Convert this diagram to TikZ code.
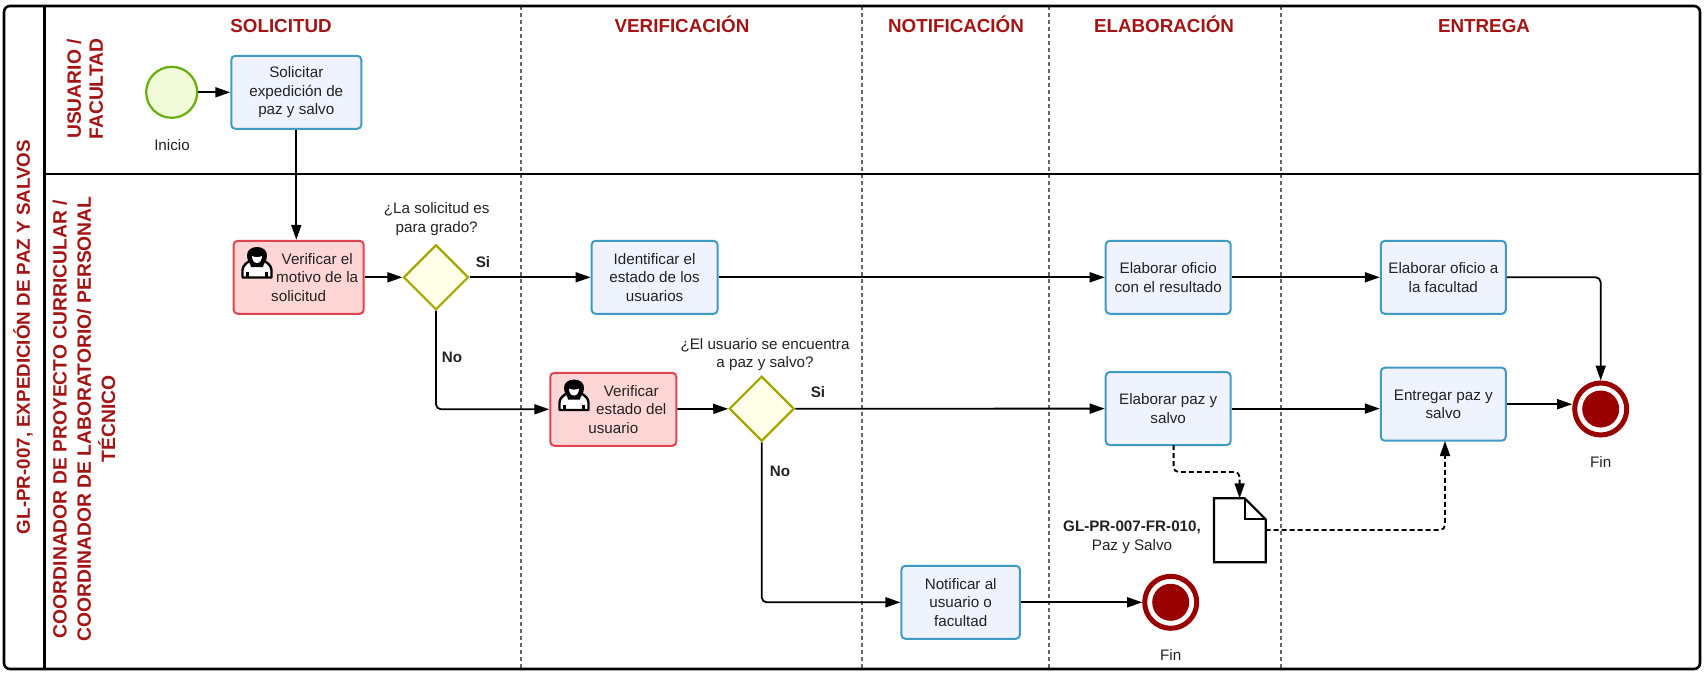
\documentclass[tikz,border=0pt]{standalone}
\usepackage{fontspec}
\setmainfont{Liberation Sans}
\usetikzlibrary{arrows.meta,shapes.geometric,calc}
\definecolor{hdr}{HTML}{A31515}
\definecolor{txt}{HTML}{222222}
\definecolor{tblue}{HTML}{EFF3FE}
\definecolor{sblue}{HTML}{3F9AC4}
\definecolor{tred}{HTML}{FFD6D6}
\definecolor{sred}{HTML}{E0444E}
\definecolor{tyel}{HTML}{FEFEE9}
\definecolor{syel}{HTML}{A6A600}
\definecolor{tgrn}{HTML}{F1FBD9}
\definecolor{sgrn}{HTML}{66AE0A}
\definecolor{endc}{HTML}{990000}
\tikzset{
 lbl/.style={font=\fontsize{15.2}{18.6}\selectfont,text=txt,align=center,inner sep=0pt},
 boldlbl/.style={lbl,font=\fontsize{15.2}{18.6}\selectfont\bfseries},
 hdrlbl/.style={font=\fontsize{18.8}{22}\selectfont\bfseries,text=hdr,inner sep=0pt,anchor=base},
 sidelbl/.style={font=\fontsize{19.3}{24.2}\selectfont\bfseries,text=hdr,align=center,inner sep=0pt,rotate=90},
 taskbase/.style={rectangle,rounded corners=4pt,line width=2pt,inner sep=0pt,align=center,text=txt,font=\fontsize{15.2}{18.6}\selectfont},
 task/.style={taskbase,draw=sblue,fill=tblue,minimum width=125pt,minimum height=73pt},
 utask/.style={taskbase,draw=sred,fill=tred,minimum width=128pt,minimum height=73pt},
 gate/.style={diamond,draw=syel,fill=tyel,line width=2.2pt,minimum width=65pt,minimum height=65pt,inner sep=0pt,aspect=1},
 startev/.style={circle,draw=sgrn,fill=tgrn,line width=2.2pt,minimum size=51pt,inner sep=0pt},
 endev/.style={circle,draw=endc,fill=white,line width=5pt,minimum size=52pt,inner sep=0pt},
 flow/.style={-{Triangle[length=15pt,width=10pt]},line width=1.8pt,black,rounded corners=5pt},
 assoc/.style={flow,dash pattern=on 5pt off 3pt},
 lane/.style={line width=1.1pt,draw=black!60,dash pattern=on 4pt off 3pt},
 person/.pic={
  \draw[black,fill=white,line width=2.4pt,line join=round]
   (-14.5,14.5) -- (-14.5,7) .. controls (-14.5,2) and (-9,-1) .. (-6,-3) -- (6,-3) .. controls (9,-1) and (14.5,2) .. (14.5,7) -- (14.5,14.5) -- cycle;
  \draw[black,line width=2.2pt] (-9.5,9) -- (-9.5,14.5) (9.5,9) -- (9.5,14.5);
  \fill[black] (-10,-7) .. controls (-11,-19) and (11,-19) .. (10,-7) .. controls (10,-2) and (6,1) .. (6,4) -- (-6,4) .. controls (-6,1) and (-10,-2) .. (-10,-7) -- cycle;
  \fill[white] (-5,-7) .. controls (-2,-5.5) and (2,-5.5) .. (5,-7) .. controls (5,-3) and (3,0) .. (0,0) .. controls (-3,0) and (-5,-3) .. (-5,-7) -- cycle;
 }
}
\begin{document}
\begin{tikzpicture}[x=1pt,y=-1pt]
\useasboundingbox (0,0) rectangle (1705,675);
% lanes
\coordinate (topa) at (521,6); \coordinate (bota) at (521,669);
\coordinate (topb) at (862,6); \coordinate (botb) at (862,669);
\coordinate (topc) at (1049,6); \coordinate (botc) at (1049,669);
\coordinate (topd) at (1281,6); \coordinate (botd) at (1281,669);
\draw[lane] (topa) -- (bota);
\draw[lane] (topb) -- (botb);
\draw[lane] (topc) -- (botc);
\draw[lane] (topd) -- (botd);
% frame
\coordinate (fa) at (4,6); \coordinate (fb) at (1700,669);
\draw[line width=2.6pt,rounded corners=6pt] (fa) rectangle (fb);
\coordinate (vt) at (44.5,6); \coordinate (vb) at (44.5,669);
\draw[line width=2.6pt] (vt) -- (vb);
\coordinate (hl) at (44.5,174); \coordinate (hr) at (1700,174);
\draw[line width=2.6pt] (hl) -- (hr);
% headers
\node[hdrlbl] (h1) at (281,32) {SOLICITUD};
\node[hdrlbl] (h2) at (682,32) {VERIFICACIÓN};
\node[hdrlbl] (h3) at (956,32) {NOTIFICACIÓN};
\node[hdrlbl] (h4) at (1164,32) {ELABORACIÓN};
\node[hdrlbl] (h5) at (1484,32) {ENTREGA};
% side labels
\node[sidelbl,font=\fontsize{18.8}{24}\selectfont\bfseries] (sa) at (23,337) {GL-PR-007, EXPEDICIÓN DE PAZ Y SALVOS};
\node[sidelbl,font=\fontsize{19.3}{21.8}\selectfont\bfseries] (sb) at (85,89) {USUARIO /\\FACULTAD};
\node[sidelbl] (sc) at (84,419) {COORDINADOR DE PROYECTO CURRICULAR /\\COORDINADOR DE LABORATORIO/ PERSONAL\\TÉCNICO};
% events and tasks
\node[startev] (s) at (171.7,92.3) {};
\node[lbl] (si) at (172,145) {Inicio};
\node[task,minimum width=130pt] (t1) at (296.3,92.3) {Solicitar\\expedición de\\paz y salvo};
\node[utask,minimum width=130pt] (t2) at (298.7,277.3) {\hspace*{37pt}Verificar el\\\hspace*{37pt}motivo de la\\solicitud};
\node[gate] (g1) at (436,277.3) {};
\node[lbl] (q1) at (436.7,218.8) {¿La solicitud es\\para grado?};
\node[task,minimum width=126pt] (t3) at (654.6,277.3) {Identificar el\\estado de los\\usuarios};
\node[task] (t4) at (1168.2,277.3) {Elaborar oficio\\con el resultado};
\node[task] (t5) at (1443.3,277.3) {Elaborar oficio a\\la facultad};
\node[utask,minimum width=126pt] (t6) at (613.3,409.3) {\hspace*{36pt}Verificar\\\hspace*{36pt}estado del\\usuario};
\node[gate] (g2) at (761.7,408.7) {};
\node[lbl] (q2) at (765,354.5) {¿El usuario se encuentra\\a paz y salvo?};
\node[task] (t7) at (1168.2,408.6) {Elaborar paz y\\salvo};
\node[task] (t8) at (1443.3,404.2) {Entregar paz y\\salvo};
\node[task,minimum width=118.5pt] (t9) at (960.7,602.3) {Notificar al\\usuario o\\facultad};
\node[endev] (e1) at (1600.7,409) {};
\fill[endc] (e1.center) circle (18.5pt);
\node[lbl] (f1) at (1600.7,461.7) {Fin};
\node[endev] (e2) at (1170.7,602.3) {};
\fill[endc] (e2.center) circle (18.5pt);
\node[lbl] (f2) at (1170.7,655) {Fin};
% person icons
\pic at (257,263) {person};
\pic at (574,395.5) {person};
% document
\coordinate (dt) at (1239.6,498.3);
\coordinate (dr) at (1265.7,530);
\draw[line width=2.2pt,fill=white,line join=miter] (1214,498.3) -- (1244.7,498.3) -- (1265.7,519.3) -- (1265.7,562.3) -- (1214,562.3) -- cycle;
\draw[line width=2.2pt,line join=miter] (1244.7,498.3) -- (1244.7,519.3) -- (1265.7,519.3);
\node[lbl] (dl) at (1132,537.5) {\textbf{GL-PR-007-FR-010,}\\Paz y Salvo};
% flows
\draw[flow] (s) -- (t1);
\draw[flow] (t1.south) -- (t1.south |- t2.north);
\draw[flow] (t2) -- (g1);
\draw[flow] (g1) -- (t3);
\draw[flow] (t3) -- (t4);
\draw[flow] (t4) -- (t5);
\draw[flow] (t5.east) -| (e1.north);
\draw[flow] (g1.south) |- (t6.west);
\draw[flow] (t6) -- (g2);
\draw[flow] (g2) -- (t7);
\draw[flow] (t7.east) -- (t7.east -| t8.west);
\draw[flow] (t8.east) -- (t8.east -| e1.west);
\draw[flow] (g2.south) |- (t9.west);
\draw[flow] (t9) -- (e2);
\coordinate (ab) at (1173.6,472);
\coordinate (as) at (1173.6,445);
\coordinate (ae) at (1445,441);
\draw[assoc] (as) -- (ab) -| (dt);
\draw[assoc] (dr) -| (ae);
% flow labels
\node[boldlbl] (ls1) at (483,262.5) {Si};
\node[boldlbl] (ln1) at (452,357.2) {No};
\node[boldlbl] (ls2) at (818,392.3) {Si};
\node[boldlbl] (ln2) at (780,471.8) {No};
\end{tikzpicture}
\end{document}
